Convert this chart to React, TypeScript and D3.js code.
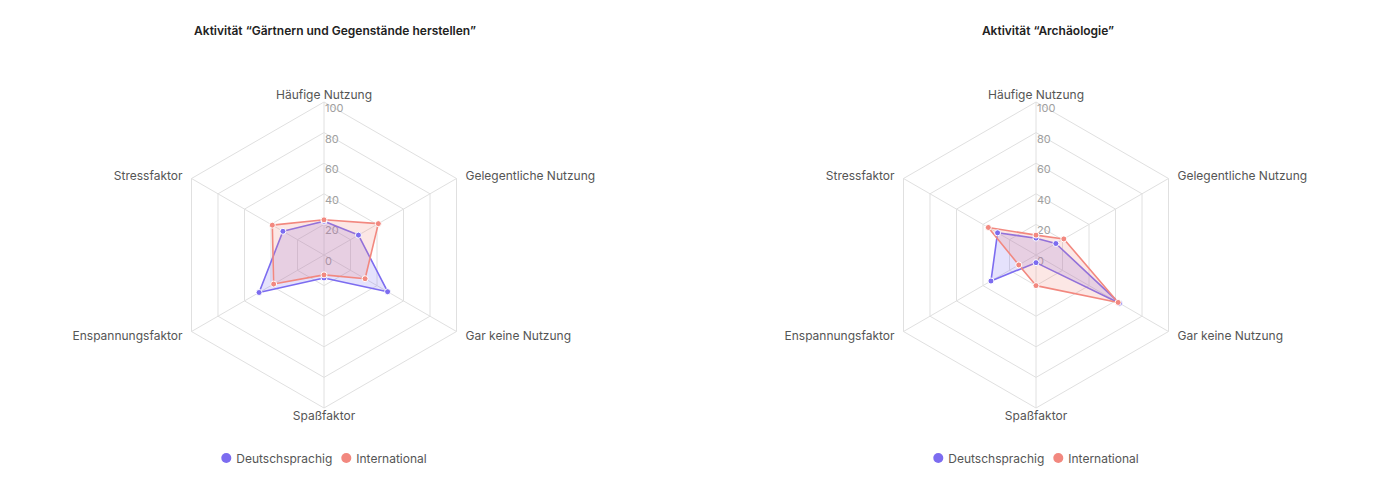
import React, { useEffect, useRef } from 'react';
import * as d3 from 'd3';

// axes go clockwise starting at the top
const axes = [
  'Häufige Nutzung',
  'Gelegentliche Nutzung',
  'Gar keine Nutzung',
  'Spaßfaktor',
  'Enspannungsfaktor',
  'Stressfaktor',
];
const tickValues = [0, 20, 40, 60, 80, 100];

const seriesNames = ['Deutschsprachig', 'International'];
const seriesColors = ['#7c6cf0', '#f2887f'];
const seriesFills = ['rgba(124,108,240,0.2)', 'rgba(242,136,127,0.2)'];

const gardenDe = [22, 26, 48, 15, 49, 31];
const gardenIntl = [23, 41, 31, 13, 38, 39];
const archDe = [11, 15, 63, 5, 34, 29];
const archIntl = [13, 21, 62, 20, 13, 36];

const charts = [
  { title: 'Aktivität “Gärtnern und Gegenstände herstellen”', cx: 324, titleX: 335, series: [gardenDe, gardenIntl] },
  { title: 'Aktivität “Archäologie”', cx: 1036, titleX: 1048, series: [archDe, archIntl] },
];

const W = 1384;
const H = 502;
const CY = 255;
const R = 153;
const FONT = 'Inter, "Noto Sans", sans-serif';

export default function App() {
  const svgRef = useRef<SVGSVGElement>(null);

  useEffect(() => {
    if (!svgRef.current) return;
    const svg = d3.select(svgRef.current);
    svg.selectAll('*').remove();

    const r = d3.scaleLinear().domain([0, 100]).range([0, R]);
    const angle = (i: number) => (i * 2 * Math.PI) / axes.length;
    const pos = (i: number, rad: number): [number, number] => [
      rad * Math.sin(angle(i)),
      -rad * Math.cos(angle(i)),
    ];

    charts.forEach(chart => {
      // title
      svg.append('text')
        .attr('x', chart.titleX)
        .attr('y', 35)
        .attr('text-anchor', 'middle')
        .attr('font-family', FONT)
        .attr('font-size', 12)
        .attr('font-weight', 600)
        .attr('fill', '#222')
        .text(chart.title);

      const g = svg.append('g').attr('transform', `translate(${chart.cx},${CY})`);

      // grid polygons
      tickValues.slice(1).forEach(t => {
        g.append('polygon')
          .attr('points', axes.map((_, i) => pos(i, r(t)).join(',')).join(' '))
          .attr('fill', 'none')
          .attr('stroke', '#e0e0e0')
          .attr('stroke-width', 1);
      });

      // spokes
      axes.forEach((_, i) => {
        const [x, y] = pos(i, R);
        g.append('line')
          .attr('x1', 0).attr('y1', 0)
          .attr('x2', x).attr('y2', y)
          .attr('stroke', '#e0e0e0')
          .attr('stroke-width', 1);
      });

      // axis labels
      axes.forEach((name, i) => {
        const [vx, vy] = pos(i, R);
        const s = Math.sin(angle(i));
        const c = Math.cos(angle(i));
        let x = vx;
        let y = vy;
        let anchor = 'middle';
        if (Math.abs(s) < 0.01) {
          y = c > 0 ? vy - 3 : vy + 12;
        } else {
          x = vx + (s > 0 ? 9 : -9);
          anchor = s > 0 ? 'start' : 'end';
          y = c > 0 ? vy + 1 : vy + 8;
        }
        g.append('text')
          .attr('x', x)
          .attr('y', y)
          .attr('text-anchor', anchor)
          .attr('font-family', FONT)
          .attr('font-size', 12)
          .attr('fill', '#555')
          .text(name);
      });

      // tick labels
      tickValues.forEach(t => {
        g.append('text')
          .attr('x', 1)
          .attr('y', -r(t) + 10)
          .attr('font-family', FONT)
          .attr('font-size', 11)
          .attr('fill', '#a0a0a0')
          .text(t);
      });

      // data
      const line = d3.line<number>()
        .x((d, i) => pos(i, r(d))[0])
        .y((d, i) => pos(i, r(d))[1])
        .curve(d3.curveLinearClosed);

      chart.series.forEach((values, si) => {
        g.append('path')
          .attr('d', line(values))
          .attr('fill', seriesFills[si])
          .attr('stroke', seriesColors[si])
          .attr('stroke-width', 1.6)
          .attr('stroke-linejoin', 'round');
      });
      chart.series.forEach((values, si) => {
        values.forEach((v, i) => {
          const [x, y] = pos(i, r(v));
          g.append('circle')
            .attr('cx', x)
            .attr('cy', y)
            .attr('r', 3)
            .attr('fill', seriesColors[si])
            .attr('stroke', '#fff')
            .attr('stroke-width', 1);
        });
      });

      // legend
      const lg = svg.append('g');
      let cursor = 0;
      seriesNames.forEach((name, si) => {
        const item = lg.append('g');
        item.append('circle')
          .attr('cx', 5)
          .attr('cy', 0)
          .attr('r', 5)
          .attr('fill', seriesColors[si]);
        const txt = item.append('text')
          .attr('x', 15)
          .attr('y', 4.5)
          .attr('font-family', FONT)
          .attr('font-size', 12)
          .attr('fill', '#555')
          .text(name);
        const w = (txt.node() as SVGTextElement).getComputedTextLength();
        item.attr('transform', `translate(${cursor},0)`);
        cursor += 15 + w + 9;
      });
      const total = cursor - 9;
      lg.attr('transform', `translate(${chart.cx - total / 2},458)`);
    });
  }, []);

  return (
    <svg
      ref={svgRef}
      width={W}
      height={H}
      style={{ position: 'absolute', left: 0, top: 0, background: '#fff' }}
    />
  );
}
